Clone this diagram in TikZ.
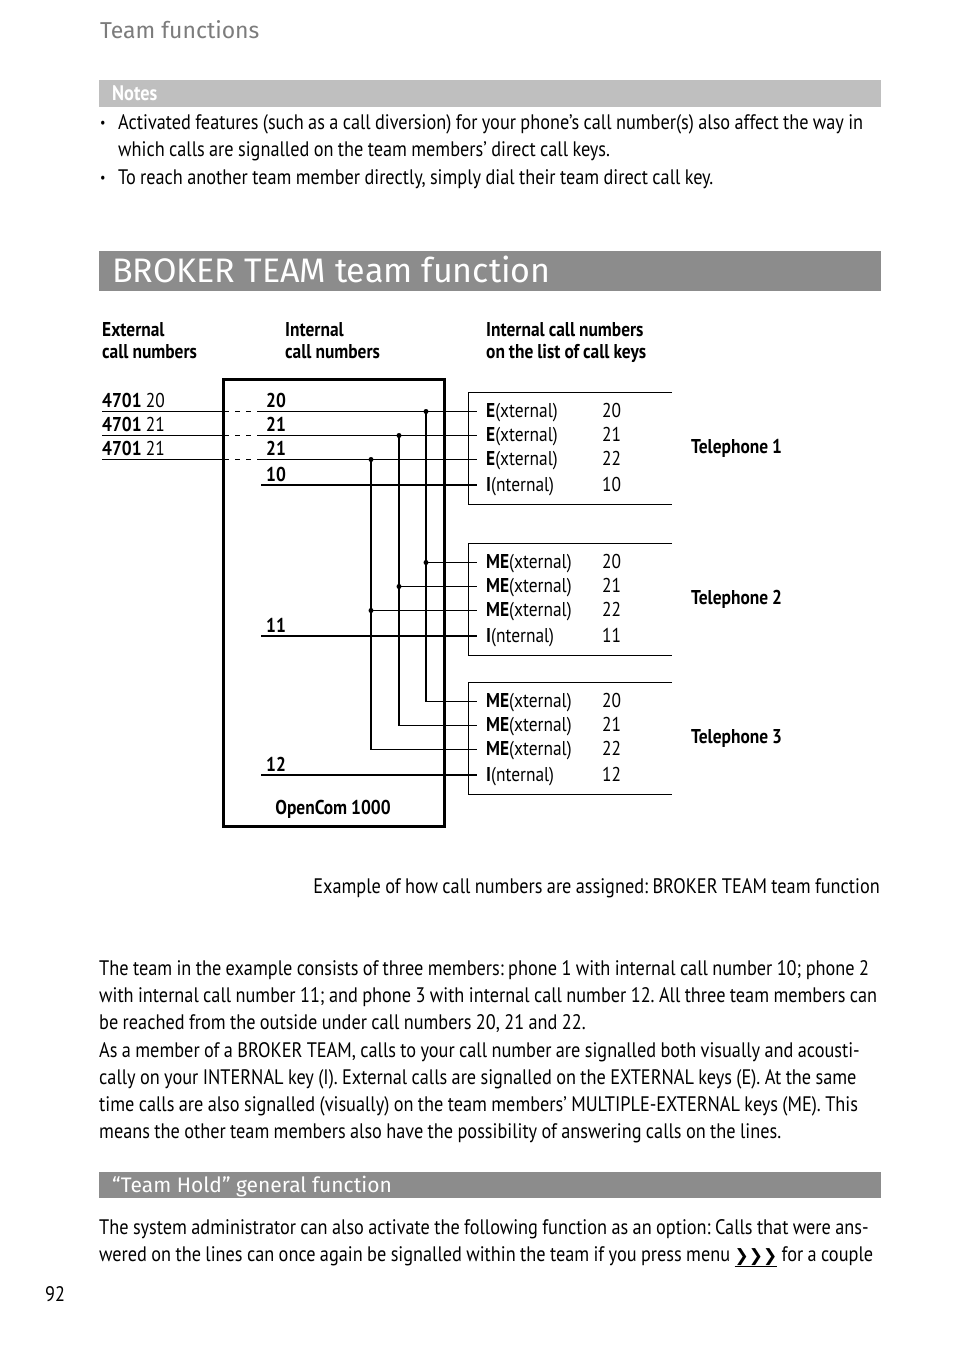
\documentclass[tikz,border=0pt]{standalone}
\usepackage{fontspec}
\setmainfont{PT Sans}[FakeStretch=0.87, WordSpace=0.9]
\newfontfamily\headfont{Fira Sans}
\newfontfamily\symfont{DejaVu Sans}
\definecolor{notegray}{HTML}{BFBFBF}
\definecolor{bargray}{HTML}{8C8C8C}
\definecolor{titlegray}{HTML}{7C7C7C}
\newcommand{\menukey}{\underline{\symfont\bfseries\fontsize{17}{20}\selectfont ❯❯❯}}
\frenchspacing
\tikzset{
  body/.style={font=\fontsize{21}{27.5}\selectfont, inner sep=0pt, anchor=base west},
  diag/.style={font=\fontsize{20}{22}\selectfont, inner sep=0pt, anchor=base west},
  diagb/.style={diag, font=\fontsize{20}{22}\selectfont\bfseries},
  bartext/.style={inner sep=0pt, anchor=base west, text=white},
  wire/.style={line width=1.1pt},
  keybox/.style={line width=1pt},
}
\begin{document}
\begin{tikzpicture}[x=1pt,y=-1pt]
  \useasboundingbox[fill=white] (0,0) rectangle (954,1354);
  % page head
  \node[bartext, text=titlegray, font=\headfont\fontsize{23}{26}\selectfont] (head) at (100,38) {Team functions};
  \fill[notegray] (99,80) rectangle (881,107);
  \node[bartext, font=\fontsize{21}{22}\selectfont\bfseries] (notes) at (112,100) {Notes};
  \node[body, font=\fontsize{14}{20}\selectfont] (bul1) at (100,127) {•};
  \node[body] (note1a) at (118,129) {Activated features (such as a call diversion) for your phone's call number(s) also affect the way in};
  \node[body] (note1b) at (118,156) {which calls are signalled on the team members’ direct call keys.};
  \node[body, font=\fontsize{14}{20}\selectfont] (bul2) at (100,182) {•};
  \node[body] (note2) at (118,184) {To reach another team member directly, simply dial their team direct call key.};
  % section title
  \fill[bargray] (99,251) rectangle (881,291);
  \node[bartext, font=\headfont\fontsize{34}{38}\selectfont] (title) at (112,282) {BROKER TEAM team function};
  % column heads
  \foreach \c/\x/\a/\b in {ext/102/External/call numbers,int/285/Internal/call numbers,key/486/Internal call numbers/on the list of call keys}{
    \node[diagb] (col\c1) at (\x,336) {\a};
    \node[diagb] (col\c2) at (\x,358) {\b};
  }
  % call keys of the three phones
  \foreach \p/\top/\kind/\int/\lw in {1/392/E/10/1.9,2/543/ME/11/1.1,3/682/ME/12/1.1}{
    \begin{scope}[yshift=-\top pt]
      \foreach \r/\dy/\num in {1/19.5/20,2/43.5/21,3/67.5/22}{
        \coordinate (k\p\r) at (477,\dy);
        \node[diag] (kn\p\r) at (486,\dy+6) {\textbf{\kind}(xternal)};
        \node[diag] (kv\p\r) at (602,\dy+6) {\num};
      }
      \coordinate (k\p4) at (477,93);
      \coordinate (i\p) at (261,93);
      \node[diag] (kn\p4) at (486,99) {\textbf{I}(nternal)};
      \node[diag] (kv\p4) at (602,99) {\int};
      \node[diagb] (in\p) at (266,89) {\int};
      \node[diagb] (tel\p) at (691,61) {Telephone \p};
      \draw[wire, line width=\lw pt] (i\p) -- (k\p4);
      \draw[keybox] (672,0) -| (468,112) -- (672,112);
    \end{scope}
  }
  % external numbers into the system
  \foreach \r/\y/\num in {1/411.5/20,2/435.5/21,3/459.5/21}{
    \node[diag] (x\r) at (102,\y-4) {\textbf{4701} \num};
    \node[diagb] (n\r) at (266,\y-4) {\num};
    \coordinate (xl\r) at (102,\y);
    \coordinate (xb\r) at (222,\y);
    \coordinate (xi\r) at (261,\y);
    \draw[wire] (xl\r) -- (xb\r);
    \draw[wire, dash pattern=on 5pt off 6pt, dash phase=-2pt] (xb\r) -- (xi\r);
    \draw[wire] (xi\r) -- (k1\r);
  }
  % team lines
  \foreach \r/\x in {1/426,2/399,3/371}{
    \coordinate (bt\r) at (\x,0);
    \draw[wire] (k1\r -| bt\r) |- (k3\r);
    \draw[wire] (k2\r -| bt\r) -- (k2\r);
    \fill (k1\r -| bt\r) circle (2.5pt);
    \fill (k2\r -| bt\r) circle (2.5pt);
  }
  \node[draw, line width=3pt, anchor=north west, inner sep=0pt, minimum width=221pt, minimum height=447pt] (pbx) at (222,378) {};
  \node[diagb, anchor=base] (pbxname) at (333,814) {OpenCom 1000};
  % caption and text
  \node[body, anchor=base east] (caption) at (880,893) {Example of how call numbers are assigned: BROKER TEAM team function};
  \foreach \t [count=\i] in {{The team in the example consists of three members: phone 1 with internal call number 10; phone 2},
      {with internal call number 11; and phone 3 with internal call number 12. All three team members can},
      {be reached from the outside under call numbers 20, 21 and 22.},
      {As a member of a BROKER TEAM, calls to your call number are signalled both visually and acousti-},
      {cally on your INTERNAL key (I). External calls are signalled on the EXTERNAL keys (E). At the same},
      {time calls are also signalled (visually) on the team members’ MULTIPLE-EXTERNAL keys (ME). This},
      {means the other team members also have the possibility of answering calls on the lines.}}
    \node[body] (txt\i) at (99,975+27.33*\i-27.33) {\t};
  \fill[bargray] (99,1172) rectangle (881,1198);
  \node[bartext, font=\headfont\fontsize{21}{24}\selectfont] (hold) at (112,1192) {“Team Hold” general function};
  \node[body] (hold1) at (99,1234) {The system administrator can also activate the following function as an option: Calls that were ans-};
  \node[body] (hold2) at (99,1261) {wered on the lines can once again be signalled within the team if you press menu \menukey{} for a couple};
  \node[body] (pageno) at (45,1301) {92};
\end{tikzpicture}
\end{document}
